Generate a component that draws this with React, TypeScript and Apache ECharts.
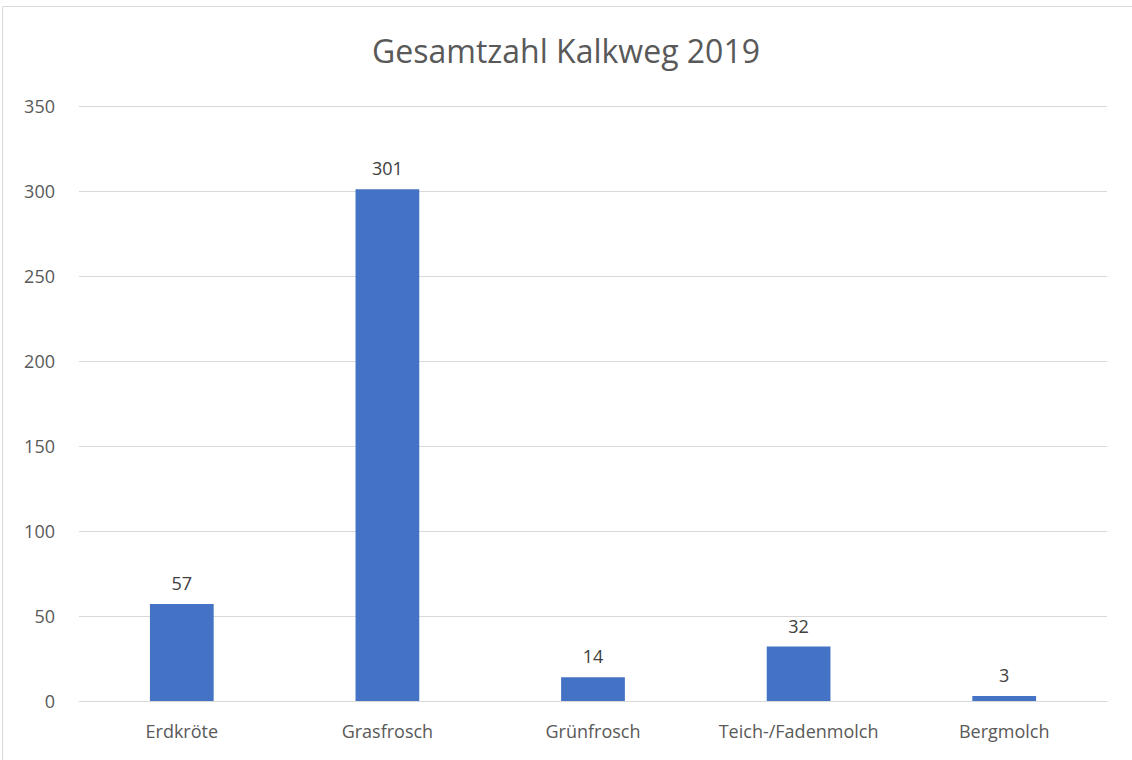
import React, { useEffect, useRef } from "react";
import * as echarts from "echarts";

const categories = ["Erdkröte", "Grasfrosch", "Grünfrosch", "Teich-/Fadenmolch", "Bergmolch"];
const values = [57, 301, 14, 32, 3];
const title = "Gesamtzahl Kalkweg 2019";

export default function App() {
  const ref = useRef<HTMLDivElement>(null);
  useEffect(() => {
    const chart = echarts.init(ref.current!, null, { renderer: "svg" });
    const font = "'Open Sans', 'Noto Sans', sans-serif";
    chart.setOption({
      animation: false,
      backgroundColor: "#ffffff",
      title: {
        text: title,
        left: "center",
        top: 29,
        textStyle: { fontFamily: font, fontSize: 32, fontWeight: "normal", color: "#595959" },
      },
      graphic: [
        {
          type: "rect",
          shape: { x: 2.5, y: 6.5, width: 1140, height: 760 },
          style: { fill: "none", stroke: "#d9d9d9", lineWidth: 1 },
          silent: true,
        },
      ],
      grid: { left: 79, right: 25, top: 106, bottom: 59, containLabel: false },
      xAxis: {
        type: "category",
        data: categories,
        axisLine: { lineStyle: { color: "#d9d9d9", width: 1 } },
        axisTick: { show: false },
        axisLabel: { interval: 0, fontFamily: font, fontSize: 18, color: "#595959", margin: 21 },
      },
      yAxis: {
        type: "value",
        min: 0,
        max: 350,
        interval: 50,
        axisLine: { show: false },
        axisTick: { show: false },
        splitLine: { lineStyle: { color: "#d9d9d9", width: 1 } },
        axisLabel: { fontFamily: font, fontSize: 18, color: "#595959", margin: 24 },
      },
      series: [
        {
          type: "bar",
          data: values,
          barWidth: "31%",
          itemStyle: { color: "#4472c4" },
          label: {
            show: true,
            position: "top",
            distance: 12,
            fontFamily: font,
            fontSize: 18,
            color: "#404040",
          },
        },
      ],
    });
    return () => chart.dispose();
  }, []);
  return (
    <div
      ref={ref}
      style={{ position: "fixed", left: 0, top: 0, width: 1132, height: 760 }}
    />
  );
}
